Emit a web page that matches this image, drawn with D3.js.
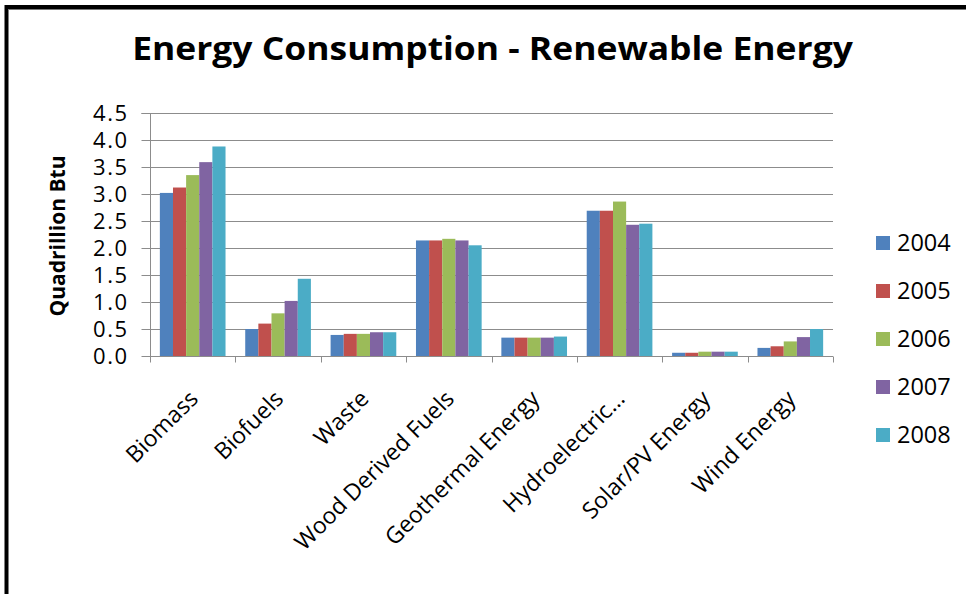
<!DOCTYPE html>
<html>
<head>
<meta charset="utf-8">
<script src="https://cdn.jsdelivr.net/npm/d3@7"></script>
<style>
  html, body { margin: 0; padding: 0; background: #fff; }
  svg { display: block; font-family: "Open Sans", "DejaVu Sans", sans-serif; }
</style>
</head>
<body>
<svg id="chart" width="966" height="594"></svg>
<script>
const categories = ["Biomass", "Biofuels", "Waste", "Wood Derived Fuels", "Geothermal Energy", "Hydroelectric\u2026", "Solar/PV Energy", "Wind Energy"];
const years = ["2004", "2005", "2006", "2007", "2008"];
const v2004 = [3.02, 0.50, 0.39, 2.14, 0.34, 2.69, 0.06, 0.15];
const v2005 = [3.12, 0.60, 0.41, 2.14, 0.34, 2.69, 0.06, 0.18];
const v2006 = [3.35, 0.79, 0.41, 2.17, 0.34, 2.86, 0.08, 0.27];
const v2007 = [3.59, 1.02, 0.44, 2.14, 0.34, 2.43, 0.08, 0.35];
const v2008 = [3.88, 1.43, 0.44, 2.05, 0.36, 2.45, 0.08, 0.50];
const yTicks = [0, 0.5, 1, 1.5, 2, 2.5, 3, 3.5, 4, 4.5];
const colors = ["#4F81BD", "#C0504D", "#9BBB59", "#8064A2", "#4BACC6"];
const title = "Energy Consumption - Renewable Energy";
const yTitle = "Quadrillion Btu";

const series = [v2004, v2005, v2006, v2007, v2008];
const svg = d3.select("#chart");

// outer frame (top and left edges)
svg.append("path")
  .attr("d", d3.line()([[6.5, 594], [6.5, 7], [966, 7]]))
  .attr("fill", "none").attr("stroke", "#000").attr("stroke-width", 4);
svg.append("line").attr("x1", 8.5).attr("x2", 966).attr("y1", 9.5).attr("y2", 9.5)
  .attr("stroke", "#777").attr("stroke-width", 1);

const x0 = 150, x1 = 833, yBottom = 356, yTop = 113;
const x = d3.scaleBand().domain(categories).range([x0, x1]).paddingInner(0).paddingOuter(0);
const xi = d3.scaleBand().domain(years).range([0, x.bandwidth()]).paddingInner(0).paddingOuter(0.75);
const y = d3.scaleLinear().domain([0, 4.5]).range([yBottom, yTop]);

// gridlines
svg.append("g").selectAll("line").data(yTicks).join("line")
  .attr("x1", x0).attr("x2", x1)
  .attr("y1", d => Math.round(y(d)) + 0.5).attr("y2", d => Math.round(y(d)) + 0.5)
  .attr("stroke", "#8c8c8c").attr("stroke-width", 1);

// bars
const groups = svg.append("g").selectAll("g").data(categories).join("g")
  .attr("transform", d => `translate(${x(d)},0)`);
groups.selectAll("rect")
  .data((c, ci) => years.map((yr, si) => ({ yr, si, v: series[si][ci] })))
  .join("rect")
  .attr("x", d => xi(d.yr))
  .attr("width", xi.bandwidth())
  .attr("y", d => y(d.v))
  .attr("height", d => y(0) - y(d.v))
  .attr("fill", d => colors[d.si]);

// y axis
const yAxis = d3.axisLeft(y).tickValues(yTicks).tickFormat(d3.format(".1f")).tickSize(9).tickPadding(13);
const gy = svg.append("g").attr("transform", `translate(${x0 + 0.5},0)`).call(yAxis);
gy.attr("font-family", null).attr("font-size", null);
gy.select(".domain").attr("stroke", "#8c8c8c").attr("d", `M-9,${Math.round(y(4.5)) + 0.5}H0V${yBottom}`);
gy.selectAll(".tick").attr("transform", d => `translate(0,${Math.round(y(d)) + 0.5})`);
gy.selectAll(".tick line").attr("stroke", "#8c8c8c");
gy.selectAll(".tick text").attr("font-size", 22).attr("fill", "#000").attr("letter-spacing", 1.5);

// x axis
const gx = svg.append("g").attr("transform", `translate(0,${yBottom + 0.5})`);
gx.append("line").attr("x1", x0).attr("x2", x1).attr("stroke", "#8c8c8c");
const bounds = categories.map(c => x(c)).concat([x1]);
gx.selectAll("line.tk").data(bounds).join("line").attr("class", "tk")
  .attr("x1", d => Math.round(d) + 0.5).attr("x2", d => Math.round(d) + 0.5)
  .attr("y1", 0).attr("y2", 6).attr("stroke", "#8c8c8c");
gx.selectAll("text").data(categories).join("text")
  .attr("transform", d => `translate(${x(d) + x.bandwidth() / 2 + 1},${38}) rotate(-45)`)
  .attr("text-anchor", "end").attr("dy", "0.35em")
  .attr("font-size", 23).attr("fill", "#000")
  .text(d => d);

// title (stretched horizontally to match reference width)
const t = svg.append("text").attr("text-anchor", "middle")
  .attr("font-weight", "bold").attr("font-size", 32).attr("fill", "#000").text(title);
const tw = t.node().getComputedTextLength();
t.attr("transform", `translate(492.5,60) scale(${721 / tw},1)`);

// y title
svg.append("text").attr("transform", `translate(65,236) rotate(-90)`)
  .attr("text-anchor", "middle").attr("font-weight", "bold").attr("font-size", 21)
  .attr("fill", "#000").text(yTitle);

// legend
const lg = svg.append("g").selectAll("g").data(years).join("g")
  .attr("transform", (d, i) => `translate(876,${243 + i * 48})`);
lg.append("rect").attr("x", 0).attr("y", -7).attr("width", 14).attr("height", 14)
  .attr("fill", (d, i) => colors[i]);
lg.append("text").attr("x", 21).attr("dy", "0.36em").attr("font-size", 23.5).attr("fill", "#000")
  .text(d => d);
</script>
</body>
</html>
